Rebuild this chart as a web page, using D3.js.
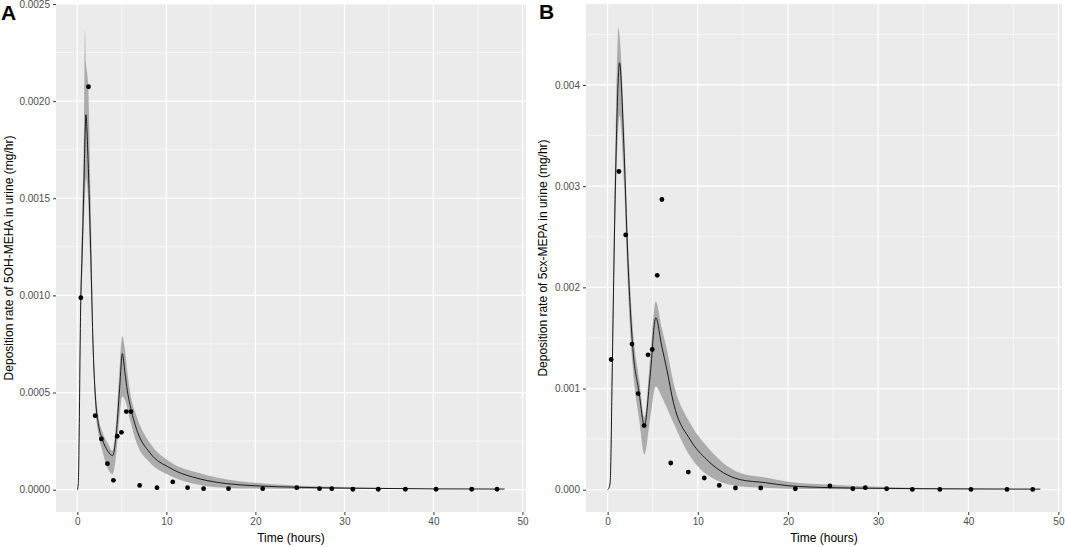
<!DOCTYPE html>
<html>
<head>
<meta charset="utf-8">
<script src="https://cdn.jsdelivr.net/npm/d3@7"></script>
<style>
    body { margin: 0; background: #fff; }
    svg { font-family: "Liberation Sans", Arial, sans-serif; }
</style>
</head>
<body>
<div id="chart"></div>
<script>
// observed sampling times (hours), shared by both metabolites
let obsTime = [0.39, 1.25, 2.0, 2.7, 3.38, 4.05, 4.48, 4.95, 5.5, 6.02, 7.0, 8.95, 10.72, 12.38, 14.18, 16.98, 20.82, 24.65, 27.2, 28.58, 30.95, 33.8, 36.85, 40.3, 44.3, 47.15];

// panel A: 5OH-MEHA observed rates (mg/hr)
let obsA = [0.000988, 0.002074, 0.000381, 0.000261, 0.000134, 0.000048, 0.000275, 0.000295, 0.000402, 0.000402, 0.000022, 0.00001, 0.00004, 0.00001, 0.000005, 0.000005, 0.000005, 0.00001, 0.000005, 0.000005, 0.000002, 0.000002, 0.000002, 0.000002, 0.000002, 0.000002];

// panel B: 5cx-MEPA observed rates (mg/hr)
let obsB = [0.001287, 0.003145, 0.002518, 0.001439, 0.00095, 0.000634, 0.001333, 0.001386, 0.002119, 0.002868, 0.000264, 0.000175, 0.000116, 0.000043, 0.000017, 0.000017, 0.00001, 0.000037, 0.00001, 0.00002, 0.00001, 0.000003, 0.000003, 0.000003, 0.000003, 0.000003];

// model prediction for A
let modelTimeA = [0, 0.1, 0.39, 0.54, 0.75, 0.85, 0.96, 1.2, 1.49, 1.78, 2.05, 2.35, 2.8, 3.4, 3.96, 4.41, 4.79, 5.05, 5.35, 5.61, 5.91, 6.66, 8.16, 10.4, 13.8, 16.8, 20, 25, 30, 35, 40, 48];
let fitA   = [0, 0.00003, 0.00099, 0.00122, 0.0016, 0.0018, 0.00193, 0.0017, 0.00124, 0.00072, 0.00046, 0.00034, 0.00026, 0.0002, 0.000175, 0.00031, 0.00055, 0.0007, 0.0006, 0.00051, 0.000438, 0.00031, 0.000189, 0.000112, 0.000055, 0.000031, 0.00002, 0.000012, 0.000008, 0.000006, 0.000004, 0.000003];
let lowerA = [0, 0.00002, 0.0009, 0.0011, 0.0014, 0.0015, 0.0016, 0.0015, 0.0011, 0.00065, 0.0004, 0.00029, 0.0002, 0.00011, 0.00008, 0.0002, 0.0004, 0.00048, 0.00046, 0.00042, 0.00036, 0.00024, 0.000138, 0.000072, 0.000024, 0.000009, 0.000006, 0.000004, 0.000003, 0.000003, 0.000003, 0.000003];
let upperA = [0, 0.00004, 0.0011, 0.0014, 0.0019, 0.00237, 0.0022, 0.0021, 0.0015, 0.0008, 0.00052, 0.00038, 0.0003, 0.00024, 0.0002, 0.00038, 0.00066, 0.00079, 0.00072, 0.00061, 0.000507, 0.000378, 0.00024, 0.000144, 0.000084, 0.000052, 0.000035, 0.00002, 0.000013, 0.000008, 0.000004, 0.000003];

// model prediction for B
let modelTimeB = [0, 0.1, 0.28, 0.53, 0.72, 0.94, 1.2, 1.31, 1.83, 2.2, 2.75, 3.49, 4.08, 4.71, 5.34, 6.0, 6.56, 7.3, 9.15, 11.0, 14.7, 17.5, 20, 25, 30, 35, 40, 48];
let fitB   = [0, 0.00001, 0.00007, 0.00129, 0.00234, 0.00333, 0.0041, 0.00422, 0.00333, 0.00238, 0.00145, 0.00096, 0.000634, 0.00112, 0.0017, 0.00142, 0.00119, 0.00086, 0.000495, 0.000297, 0.0001, 0.00007, 0.00004, 0.00002, 0.000014, 0.00001, 0.000008, 0.000006];
let lowerB = [0, 0.00001, 0.00005, 0.0011, 0.0021, 0.003, 0.0036, 0.0037, 0.003, 0.0021, 0.00125, 0.0007, 0.00035, 0.0007, 0.00102, 0.00092, 0.00081, 0.00066, 0.00033, 0.00015, 0.000033, 0.00002, 0.00001, 0.000005, 0.000004, 0.000005, 0.000006, 0.000006];
let upperB = [0, 0.00001, 0.0001, 0.0015, 0.0027, 0.0038, 0.00457, 0.0045, 0.0036, 0.0026, 0.00165, 0.0011, 0.00072, 0.0013, 0.00186, 0.0016, 0.00139, 0.00106, 0.00066, 0.00043, 0.000165, 0.00012, 0.00008, 0.00005, 0.00003, 0.000018, 0.00001, 0.000006];

// tick values
let xTicks = [0, 10, 20, 30, 40, 50];
let yTicksA = [0, 0.0005, 0.001, 0.0015, 0.002, 0.0025];
let yTicksB = [0, 0.001, 0.002, 0.003, 0.004];

let width = 1065;
let height = 547;

let svg = d3.select('#chart').append('svg')
    .attr('width', width)
    .attr('height', height);

function drawPanel(opts) {
    let left = opts.left, right = opts.right, top = 4, bottom = 512;

    let x = d3.scaleLinear().domain([-2.4, 50.4]).range([left, right]);
    let y = d3.scaleLinear().domain(opts.yDomain).range([bottom, top]);

    let g = svg.append('g');

    // panel background
    g.append('rect')
        .attr('x', left).attr('y', top)
        .attr('width', right - left).attr('height', bottom - top)
        .attr('fill', '#EBEBEB');

    // minor grid (halfway between the major ticks)
    let step = opts.yTicks[1] - opts.yTicks[0];
    let xMinor = xTicks.slice(0, -1).map(function (d) { return d + 5; });
    let yMinor = opts.yTicks.map(function (d) { return d + step / 2; });
    yMinor.push(opts.yTicks[0] - step / 2);
    yMinor = yMinor.filter(function (d) { return d > opts.yDomain[0] && d < opts.yDomain[1]; });

    g.selectAll('.xminor').data(xMinor).enter().append('line')
        .attr('x1', function (d) { return x(d); }).attr('x2', function (d) { return x(d); })
        .attr('y1', top).attr('y2', bottom)
        .attr('stroke', '#fff').attr('stroke-width', 0.6);
    g.selectAll('.yminor').data(yMinor).enter().append('line')
        .attr('y1', function (d) { return y(d); }).attr('y2', function (d) { return y(d); })
        .attr('x1', left).attr('x2', right)
        .attr('stroke', '#fff').attr('stroke-width', 0.6);

    // major grid
    g.selectAll('.xmajor').data(xTicks).enter().append('line')
        .attr('x1', function (d) { return x(d); }).attr('x2', function (d) { return x(d); })
        .attr('y1', top).attr('y2', bottom)
        .attr('stroke', '#fff').attr('stroke-width', 1.2);
    g.selectAll('.ymajor').data(opts.yTicks).enter().append('line')
        .attr('y1', function (d) { return y(d); }).attr('y2', function (d) { return y(d); })
        .attr('x1', left).attr('x2', right)
        .attr('stroke', '#fff').attr('stroke-width', 1.2);

    // ribbon + model line
    let model = opts.modelTime.map(function (t, i) {
        return {t: t, fit: opts.fit[i], lo: opts.lower[i], hi: opts.upper[i]};
    });

    let area = d3.area()
        .x(function (d) { return x(d.t); })
        .y0(function (d) { return y(d.lo); })
        .y1(function (d) { return y(d.hi); })
        .curve(d3.curveMonotoneX);

    g.append('path').datum(model)
        .attr('d', area)
        .attr('fill', '#ACACAC');

    let line = d3.line()
        .x(function (d) { return x(d.t); })
        .y(function (d) { return y(d.fit); })
        .curve(d3.curveMonotoneX);

    g.append('path').datum(model)
        .attr('d', line)
        .attr('fill', 'none')
        .attr('stroke', '#1a1a1a')
        .attr('stroke-width', 1);

    // observed points
    g.selectAll('.pt').data(opts.obs).enter().append('circle')
        .attr('cx', function (d, i) { return x(obsTime[i]); })
        .attr('cy', function (d) { return y(d); })
        .attr('r', 2.4)
        .attr('fill', '#000');

    // axes
    let xAxis = g.append('g')
        .attr('transform', 'translate(0,' + bottom + ')')
        .call(d3.axisBottom(x).tickValues(xTicks).tickSize(3).tickPadding(3).tickFormat(d3.format('d')));
    let yAxis = g.append('g')
        .attr('transform', 'translate(' + left + ',0)')
        .call(d3.axisLeft(y).tickValues(opts.yTicks).tickSize(3).tickPadding(3).tickFormat(d3.format(opts.fmt)));

    [xAxis, yAxis].forEach(function (a) {
        a.select('.domain').remove();
        a.selectAll('line').attr('stroke', '#333');
        a.selectAll('text').attr('fill', '#4D4D4D').style('font-size', '10px');
    });

    // axis titles
    g.append('text')
        .attr('x', (left + right) / 2).attr('y', 542)
        .attr('text-anchor', 'middle')
        .style('font-size', '12px')
        .text('Time (hours)');

    g.append('text')
        .attr('transform', 'translate(' + opts.yTitleX + ',' + (top + bottom) / 2 + ') rotate(-90)')
        .attr('text-anchor', 'middle')
        .style('font-size', '12px')
        .text(opts.yTitle);

    // panel letter
    g.append('text')
        .attr('x', opts.letterX).attr('y', opts.letterY)
        .style('font-size', '21px')
        .style('font-weight', 'bold')
        .text(opts.letter);
}

drawPanel({
    left: 56, right: 526,
    yDomain: [-0.000115, 0.0025],
    yTicks: yTicksA, fmt: '.4f',
    modelTime: modelTimeA, fit: fitA, lower: lowerA, upper: upperA,
    obs: obsA,
    yTitle: 'Deposition rate of 5OH-MEHA in urine (mg/hr)', yTitleX: 13,
    letter: 'A', letterX: 1, letterY: 20
});

drawPanel({
    left: 586, right: 1062,
    yDomain: [-0.00022, 0.0048],
    yTicks: yTicksB, fmt: '.3f',
    modelTime: modelTimeB, fit: fitB, lower: lowerB, upper: upperB,
    obs: obsB,
    yTitle: 'Deposition rate of 5cx-MEPA in urine (mg/hr)', yTitleX: 547,
    letter: 'B', letterX: 539, letterY: 19
});
</script>
</body>
</html>
